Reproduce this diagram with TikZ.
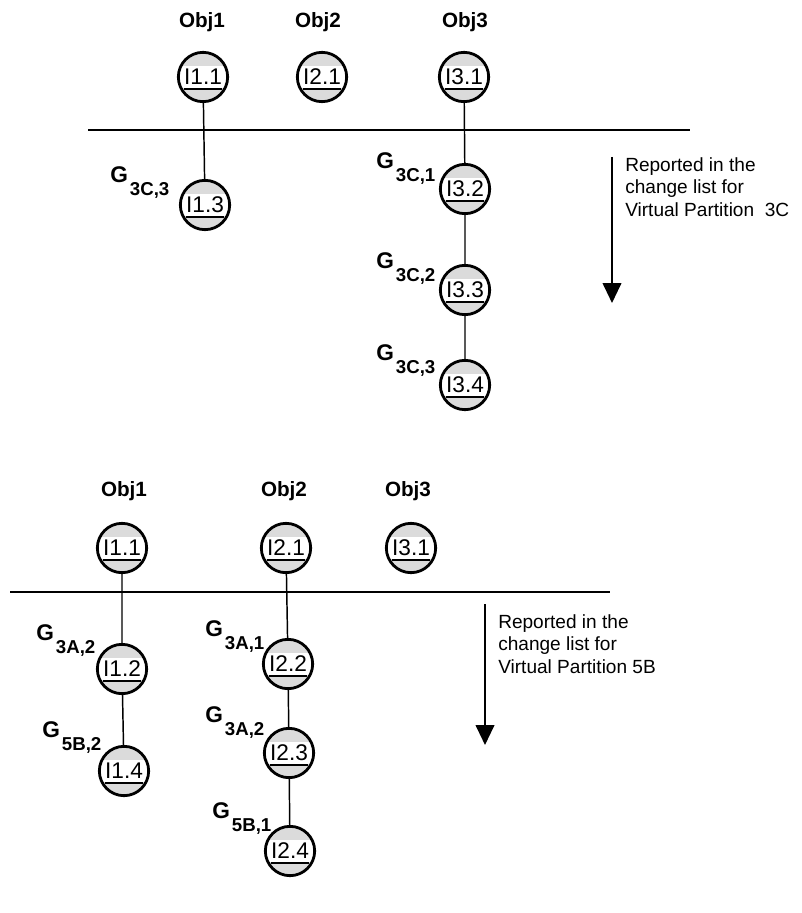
\documentclass[tikz,border=0pt]{standalone}
\usepackage{fontspec}
\setmainfont{Liberation Sans}
\usetikzlibrary{arrows.meta, calc, positioning}

\tikzset{
  inst/.style={circle, draw, line width=2.1pt, fill=gray!28, minimum size=37pt, inner sep=0pt,
    font=\fontsize{17}{17}\selectfont,
    path picture={
      \fill[white] ($(path picture bounding box.center)+(-40,-11)$) rectangle ($(path picture bounding box.center)+(40,11)$);
      \draw[line width=0.9pt] ($(path picture bounding box.center)+(-19,12)$) -- ++(38,0);}},
  objlab/.style={font=\bfseries\fontsize{15.5}{16}\selectfont},
  glab/.style={anchor=base west, inner sep=0pt, font=\bfseries\fontsize{17}{17}\selectfont},
  link/.style={line width=1.1pt},
  bar/.style={line width=2.2pt},
  report/.style={line width=1.5pt, -{Triangle[length=15pt, width=14pt]}},
  note/.style={anchor=north west, align=left, inner sep=0pt, font=\fontsize{14.3}{17}\selectfont},
}
\newcommand{\gname}[2]{G\kern1.5pt\raisebox{-10pt}{\fontsize{14}{14}\selectfont #1,#2}}

\begin{document}
\begin{tikzpicture}[x=0.75pt, y=-0.75pt]

  \useasboundingbox (0, 0) rectangle (802, 913);

  % ---------- Virtual partition 3C ----------
  \node[objlab] (ob1) at (202, 22) {Obj1};
  \node[objlab] (ob2) at (318, 22) {Obj2};
  \node[objlab] (ob3) at (465, 22) {Obj3};

  \coordinate (barAl) at (88, 130);
  \coordinate (barAr) at (690, 130);
  \draw[bar] (barAl) -- (barAr);

  \node[inst] (a11) at (203, 77)  {I1.1};
  \node[inst] (a21) at (322, 77)  {I2.1};
  \node[inst] (a31) at (464, 77)  {I3.1};
  \node[inst] (a13) at (205, 205) {I1.3};
  \node[inst] (a32) at (465, 189) {I3.2};
  \node[inst] (a33) at (465, 290) {I3.3};
  \node[inst] (a34) at (465, 385) {I3.4};

  \draw[link] (a11) -- (a13);
  \draw[link] (a31) -- (a32) -- (a33) -- (a34);

  % Generation labels
  \node[glab] at (110, 182) {\gname{3C}{3}};
  \node[glab] at (376, 168) {\gname{3C}{1}};
  \node[glab] at (376, 268) {\gname{3C}{2}};
  \node[glab] at (376, 360) {\gname{3C}{3}};

  % Change list arrow
  \coordinate (arrAt) at (612, 157);
  \coordinate (arrAb) at (612, 303);
  \draw[report] (arrAt) -- (arrAb);
  \node[note] (noteA) at (625, 157) {Reported in the\\change list for\\Virtual Partition~ 3C};

  % ---------- Virtual partition 5B ----------
  \node[objlab] (ob1b) at (124, 491) {Obj1};
  \node[objlab] (ob2b) at (284, 491) {Obj2};
  \node[objlab] (ob3b) at (408, 491) {Obj3};

  \coordinate (barBl) at (10, 592);
  \coordinate (barBr) at (610, 592);
  \draw[bar] (barBl) -- (barBr);

  \node[inst] (b11) at (122, 548) {I1.1};
  \node[inst] (b21) at (286, 548) {I2.1};
  \node[inst] (b31) at (411, 548) {I3.1};
  \node[inst] (b12) at (122, 669) {I1.2};
  \node[inst] (b14) at (124, 771) {I1.4};
  \node[inst] (b22) at (288, 664) {I2.2};
  \node[inst] (b23) at (289, 753) {I2.3};
  \node[inst] (b24) at (290, 851) {I2.4};

  \draw[link] (b11) -- (b12) -- (b14);
  \draw[link] (b21) -- (b22) -- (b23) -- (b24);

  % Generation labels
  \node[glab] at (36, 640)  {\gname{3A}{2}};
  \node[glab] at (42, 737)  {\gname{5B}{2}};
  \node[glab] at (205, 636) {\gname{3A}{1}};
  \node[glab] at (205, 722) {\gname{3A}{2}};
  \node[glab] at (212, 818) {\gname{5B}{1}};

  % Change list arrow
  \coordinate (arrBt) at (485, 604);
  \coordinate (arrBb) at (485, 745);
  \draw[report] (arrBt) -- (arrBb);
  \node[note] (noteB) at (498, 614) {Reported in the\\change list for\\Virtual Partition 5B};

\end{tikzpicture}
\end{document}
